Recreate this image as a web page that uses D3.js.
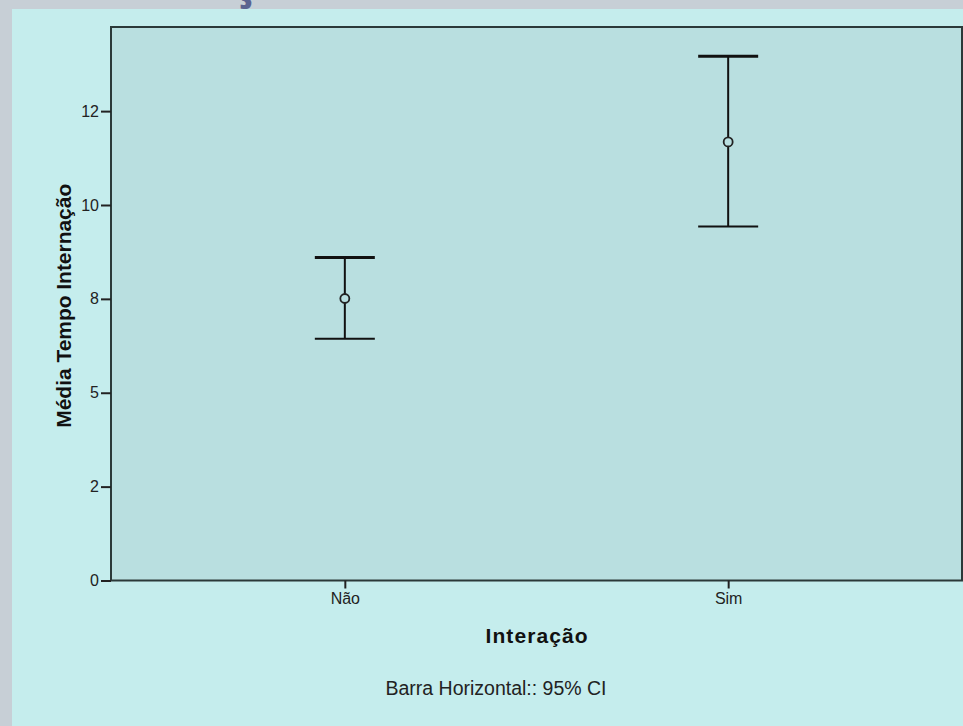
<!DOCTYPE html>
<html>
<head>
<meta charset="utf-8">
<script src="https://cdn.jsdelivr.net/npm/d3@7"></script>
<style>
  body { margin: 0; background: #c7cfd6; }
  svg { display: block; }
</style>
</head>
<body>
<svg id="chart" width="963" height="726"></svg>
<script>
// group names and the interval values
var categories = ["Não", "Sim"];
var means = [7.51, 11.68];
var lowerCI = [6.44, 9.43];
var upperCI = [8.60, 13.96];
var yTicks = [0, 2.5, 5, 7.5, 10, 12.5];
var yTickLabels = ["0", "2", "5", "8", "10", "12"];

var svg = d3.select("#chart");
// plot frame (note: "top" is taken by window.top, so use other names)
var plotL = 111, plotR = 962, plotT = 27, plotB = 580.5;

// page background (grey border + cyan panel)
svg.append("rect").attr("x", 0).attr("y", 0).attr("width", 963).attr("height", 726).style("fill", "#c7cfd6");
svg.append("rect").attr("x", 12).attr("y", 9).attr("width", 951).attr("height", 717).style("fill", "#c5eded");

// cut off bit of the slide title above
svg.append("text")
    .attr("x", 244).attr("y", -3)
    .attr("text-anchor", "middle")
    .style("font-family", "'Open Sans', sans-serif")
    .style("font-weight", "bold")
    .style("font-size", "48px")
    .style("fill", "#5a6390")
    .text("ç");

var x = d3.scalePoint().domain(categories).range([plotL, plotR]).padding(0.61);
var y = d3.scaleLinear().domain([0, 14.74]).range([plotB, plotT]);

// plot area
svg.append("rect")
    .attr("x", plotL).attr("y", plotT)
    .attr("width", plotR - plotL).attr("height", plotB - plotT)
    .style("fill", "#b9dfe0")
    .style("stroke", "#2b3939")
    .style("stroke-width", 2);

// y axis
var yAxis = svg.append("g")
    .attr("transform", "translate(" + plotL + ",0)")
    .call(d3.axisLeft(y).tickValues(yTicks).tickSize(10).tickPadding(2)
        .tickFormat(function(d, i) { return yTickLabels[i]; }));
yAxis.select(".domain").remove();
yAxis.selectAll(".tick line").style("stroke", "#222").style("stroke-width", 2);
yAxis.selectAll(".tick text")
    .style("font-family", "'Liberation Sans', Arial, sans-serif")
    .style("font-size", "16px")
    .style("fill", "#222");

// x axis
var xAxis = svg.append("g")
    .attr("transform", "translate(0," + plotB + ")")
    .call(d3.axisBottom(x).tickSize(8).tickPadding(4));
xAxis.select(".domain").remove();
xAxis.selectAll(".tick line").style("stroke", "#222").style("stroke-width", 2);
xAxis.selectAll(".tick text")
    .style("font-family", "'Liberation Sans', Arial, sans-serif")
    .style("font-size", "16px")
    .style("fill", "#222");

// error bars
var rows = categories.map(function(c, i) {
    return { cat: c, mean: means[i], lo: lowerCI[i], hi: upperCI[i] };
});
var capW = 30;
var bars = svg.append("g").selectAll("g").data(rows).enter().append("g");

bars.append("line")
    .attr("x1", function(d) { return x(d.cat); })
    .attr("x2", function(d) { return x(d.cat); })
    .attr("y1", function(d) { return y(d.hi); })
    .attr("y2", function(d) { return y(d.lo); })
    .style("stroke", "#111").style("stroke-width", 2);

bars.append("line")
    .attr("x1", function(d) { return x(d.cat) - capW; })
    .attr("x2", function(d) { return x(d.cat) + capW; })
    .attr("y1", function(d) { return y(d.hi); })
    .attr("y2", function(d) { return y(d.hi); })
    .style("stroke", "#111").style("stroke-width", 3);

bars.append("line")
    .attr("x1", function(d) { return x(d.cat) - capW; })
    .attr("x2", function(d) { return x(d.cat) + capW; })
    .attr("y1", function(d) { return y(d.lo); })
    .attr("y2", function(d) { return y(d.lo); })
    .style("stroke", "#111").style("stroke-width", 2);

bars.append("circle")
    .attr("cx", function(d) { return x(d.cat); })
    .attr("cy", function(d) { return y(d.mean); })
    .attr("r", 4.5)
    .style("fill", "#b9dfe0")
    .style("stroke", "#222")
    .style("stroke-width", 1.8);

// titles
svg.append("text")
    .attr("transform", "translate(71," + ((plotT + plotB) / 2 + 2) + ") rotate(-90)")
    .attr("text-anchor", "middle")
    .attr("textLength", 244)
    .attr("lengthAdjust", "spacing")
    .style("font-family", "'Liberation Sans', Arial, sans-serif")
    .style("font-weight", "bold")
    .style("font-size", "21px")
    .style("fill", "#111")
    .text("Média Tempo Internação");

svg.append("text")
    .attr("x", (plotL + plotR) / 2).attr("y", 643)
    .attr("text-anchor", "middle")
    .attr("textLength", 102)
    .attr("lengthAdjust", "spacing")
    .style("font-family", "'Liberation Sans', Arial, sans-serif")
    .style("font-weight", "bold")
    .style("font-size", "21px")
    .style("fill", "#111")
    .text("Interação");

svg.append("text")
    .attr("x", 496).attr("y", 695)
    .attr("text-anchor", "middle")
    .style("font-family", "'Liberation Sans', Arial, sans-serif")
    .style("font-size", "19.5px")
    .style("fill", "#222")
    .text("Barra Horizontal:: 95% CI");
</script>
</body>
</html>
